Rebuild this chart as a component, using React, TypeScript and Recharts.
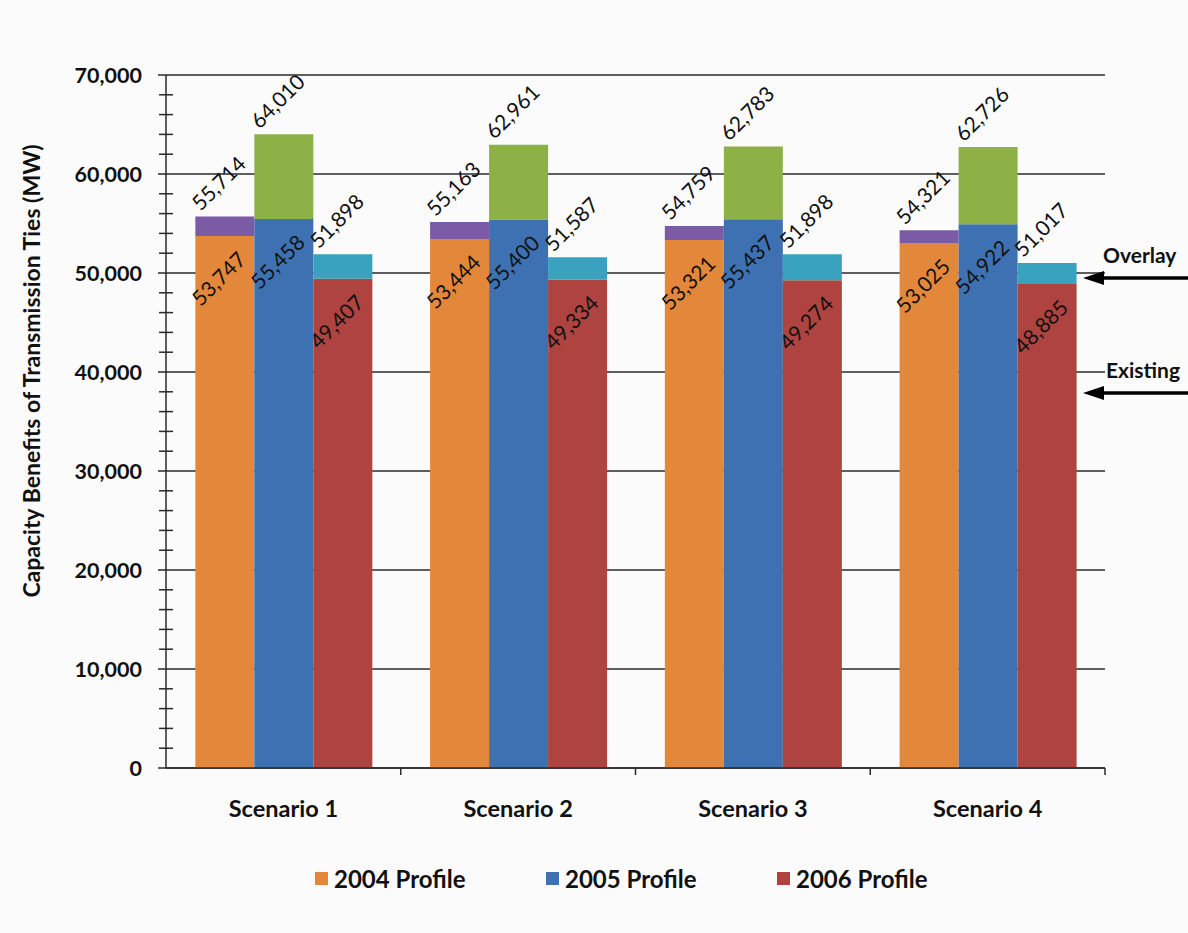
import { BarChart, Bar, XAxis, YAxis, CartesianGrid, LabelList } from 'recharts'

const scenarios = ['Scenario 1', 'Scenario 2', 'Scenario 3', 'Scenario 4']

// existing ties + value with overlay (the label above each stack)
const existing2004 = [53747, 53444, 53321, 53025]
const total2004 = [55714, 55163, 54759, 54321]
const existing2005 = [55458, 55400, 55437, 54922]
const total2005 = [64010, 62961, 62783, 62726]
const existing2006 = [49407, 49334, 49274, 48885]
const total2006 = [51898, 51587, 51898, 51017]

const majorTicks = [0, 10000, 20000, 30000, 40000, 50000, 60000, 70000]
const minorTicks = [
  0, 2000, 4000, 6000, 8000, 10000, 12000, 14000, 16000, 18000, 20000, 22000, 24000, 26000, 28000,
  30000, 32000, 34000, 36000, 38000, 40000, 42000, 44000, 46000, 48000, 50000, 52000, 54000, 56000,
  58000, 60000, 62000, 64000, 66000, 68000, 70000,
]

const legendItems = ['2004 Profile', '2005 Profile', '2006 Profile']

const C = {
  orange: '#E3873A',
  purple: '#7C5BA6',
  blue: '#3D71B2',
  green: '#8DB047',
  red: '#AE4340',
  teal: '#39A2BE',
}
const legendColors = [C.orange, C.blue, C.red]

const data = scenarios.map((name, i) => ({
  name,
  e2004: existing2004[i],
  o2004: total2004[i] - existing2004[i],
  t2004: total2004[i],
  e2005: existing2005[i],
  o2005: total2005[i] - existing2005[i],
  t2005: total2005[i],
  e2006: existing2006[i],
  o2006: total2006[i] - existing2006[i],
  t2006: total2006[i],
}))

const FONT = 'Lato, "Open Sans", sans-serif'
const W = 1188
const H = 933
const PLOT_LEFT = 166
const PLOT_RIGHT = 1105
const AXIS = '#2a2a2a'

const fmt = (v: number) => Number(v).toLocaleString('en-US')

// rotated value label, dy is offset from the top of the segment
const diagLabel = (dy: number) => (props: any) => {
  const { x, y, width, value } = props
  const cx = Number(x) + Number(width) / 2 - 6
  const cy = Number(y) + dy
  return (
    <text
      x={cx}
      y={cy}
      dy="0.35em"
      transform={`rotate(-45 ${cx} ${cy})`}
      textAnchor="middle"
      fontFamily={FONT}
      fontSize={21}
      fill="#111"
    >
      {fmt(value)}
    </text>
  )
}

const YTick = (props: any) => {
  const { x, y, payload } = props
  const v = payload.value
  if (v % 10000 === 0) {
    return (
      <g>
        <line x1={x - 8} x2={x} y1={y} y2={y} stroke={AXIS} strokeWidth={1.5} />
        <text
          x={x - 24}
          y={y}
          dy="0.36em"
          textAnchor="end"
          fontFamily={FONT}
          fontWeight="bold"
          fontSize={21.5}
          fill="#111"
        >
          {fmt(v)}
        </text>
      </g>
    )
  }
  return <line x1={x - 7} x2={x + 7} y1={y} y2={y} stroke={AXIS} strokeWidth={1.5} />
}

const bandHalf = (PLOT_RIGHT - PLOT_LEFT) / scenarios.length / 2

const XTick = (props: any) => {
  const { x, y, payload } = props
  return (
    <g>
      <line x1={x + bandHalf} x2={x + bandHalf} y1={y} y2={y + 7} stroke={AXIS} strokeWidth={1.5} />
      <text
        x={x}
        y={y + 49}
        textAnchor="middle"
        fontFamily={FONT}
        fontWeight="bold"
        fontSize={23.5}
        fill="#111"
      >
        {payload.value}
      </text>
    </g>
  )
}

function Arrow({ y }: { y: number }) {
  return (
    <g>
      <line x1={1100} x2={W} y1={y} y2={y} stroke="#000" strokeWidth={3.5} />
      <polygon points={`1083,${y} 1104,${y - 7} 1104,${y + 7}`} fill="#000" />
    </g>
  )
}

export default function App() {
  return (
    <div
      style={{
        position: 'absolute',
        left: 0,
        top: 0,
        width: W,
        height: H,
        background: '#fbfbfb',
        fontFamily: FONT,
      }}
    >
      <BarChart
        width={W}
        height={H}
        data={data}
        margin={{ top: 75, right: W - PLOT_RIGHT, left: 96, bottom: 115 }}
        barCategoryGap="12.5%"
        barGap={0}
      >
        <CartesianGrid
          horizontal
          vertical={false}
          horizontalValues={majorTicks}
          stroke={AXIS}
          strokeWidth={1.5}
        />
        <XAxis
          dataKey="name"
          height={50}
          axisLine={{ stroke: AXIS, strokeWidth: 1.5 }}
          tickLine={false}
          tickSize={0}
          tickMargin={0}
          tick={<XTick />}
          interval={0}
        />
        <YAxis
          width={70}
          domain={[0, 70000]}
          ticks={minorTicks}
          interval={0}
          axisLine={{ stroke: AXIS, strokeWidth: 1.5 }}
          tickLine={false}
          tickSize={0}
          tickMargin={0}
          tick={<YTick />}
        />
        <Bar dataKey="e2004" stackId="a" fill={C.orange} isAnimationActive={false}>
          <LabelList dataKey="e2004" content={diagLabel(43)} />
        </Bar>
        <Bar dataKey="o2004" stackId="a" fill={C.purple} isAnimationActive={false}>
          <LabelList dataKey="t2004" content={diagLabel(-33)} />
        </Bar>
        <Bar dataKey="e2005" stackId="b" fill={C.blue} isAnimationActive={false}>
          <LabelList dataKey="e2005" content={diagLabel(43)} />
        </Bar>
        <Bar dataKey="o2005" stackId="b" fill={C.green} isAnimationActive={false}>
          <LabelList dataKey="t2005" content={diagLabel(-33)} />
        </Bar>
        <Bar dataKey="e2006" stackId="c" fill={C.red} isAnimationActive={false}>
          <LabelList dataKey="e2006" content={diagLabel(43)} />
        </Bar>
        <Bar dataKey="o2006" stackId="c" fill={C.teal} isAnimationActive={false}>
          <LabelList dataKey="t2006" content={diagLabel(-33)} />
        </Bar>
      </BarChart>

      <svg
        width={W}
        height={H}
        style={{ position: 'absolute', left: 0, top: 0, pointerEvents: 'none' }}
      >
        <text
          x={0}
          y={0}
          transform="translate(40 371) rotate(-90)"
          textAnchor="middle"
          fontFamily={FONT}
          fontWeight="bold"
          fontSize={23}
          fill="#111"
        >
          Capacity Benefits of Transmission Ties (MW)
        </text>
        <text x={1103} y={263} fontFamily={FONT} fontWeight="bold" fontSize={21} fill="#111">
          Overlay
        </text>
        <Arrow y={278} />
        <text x={1106} y={378} fontFamily={FONT} fontWeight="bold" fontSize={21} fill="#111">
          Existing
        </text>
        <Arrow y={393} />
      </svg>

      <div style={{ position: 'absolute', left: 315, top: 864, display: 'flex' }}>
        {legendItems.map((name, i) => (
          <div key={name} style={{ width: 231, display: 'flex', alignItems: 'center' }}>
            <span
              style={{
                display: 'inline-block',
                width: 13,
                height: 13,
                background: legendColors[i],
                marginRight: 6,
              }}
            />
            <span style={{ fontSize: 24, fontWeight: 'bold', color: '#111' }}>{name}</span>
          </div>
        ))}
      </div>
    </div>
  )
}
